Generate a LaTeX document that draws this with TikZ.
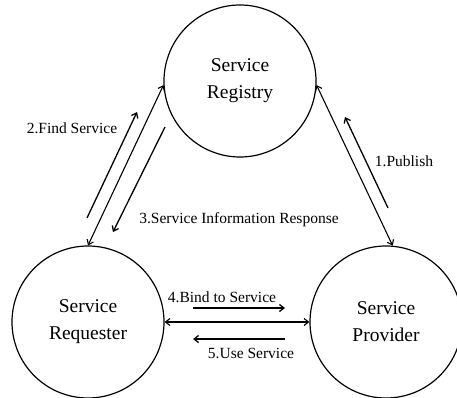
\documentclass[tikz,border=0pt]{standalone}
\usepackage{fontspec}
\setmainfont{Liberation Serif}
\usepackage{tikz}
\usetikzlibrary{arrows.meta}

\tikzset{
  >={Straight Barb[length=4.5pt, width=7pt]},
  party/.style={draw, circle, line width=1.2pt, minimum size=152pt, inner sep=0pt, align=center, font=\fontsize{19.5}{27}\selectfont},
  msg/.style={font=\fontsize{15.5}{18}\selectfont, inner sep=0pt},
  link/.style={<->, line width=1.1pt},
  msgarrow/.style={->, line width=1.3pt}
}

\begin{document}
\begin{tikzpicture}[x=1pt, y=-1pt]
\useasboundingbox (0,0) rectangle (457,398);

\node[party] (reg) at (240, 81) {Service\\Registry};
\node[party] (req) at (88, 322) {Service\\Requester};
\node[party] (prov) at (386, 322) {Service\\Provider};

\coordinate (find0) at (87, 218);
\coordinate (find1) at (137, 112);
\coordinate (resp0) at (165, 127);
\coordinate (resp1) at (113, 232);
\coordinate (pub0) at (388, 208);
\coordinate (pub1) at (345, 117);
\coordinate (bind0) at (193, 308);
\coordinate (bind1) at (285, 308);
\coordinate (use0) at (285, 339);
\coordinate (use1) at (193, 339);

\node[msg] (find) at (72, 128) {2.Find Service};
\node[msg] (resp) at (239, 220) {3.Service Information Response};
\node[msg] (pub) at (404, 161) {1.Publish};
\node[msg] (bind) at (222, 297) {4.Bind to Service};
\node[msg] (use) at (251, 353) {5.Use Service};

\draw[link] (reg.183) to (req.90);
\draw[link] (reg.-3) to (prov.85);
\draw[link] (req.east) to (prov.west);

\draw[msgarrow] (find0) to (find1);
\draw[msgarrow] (resp0) to (resp1);
\draw[msgarrow] (pub0) to (pub1);
\draw[msgarrow] (bind0) to (bind1);
\draw[msgarrow] (use0) to (use1);

\end{tikzpicture}
\end{document}
